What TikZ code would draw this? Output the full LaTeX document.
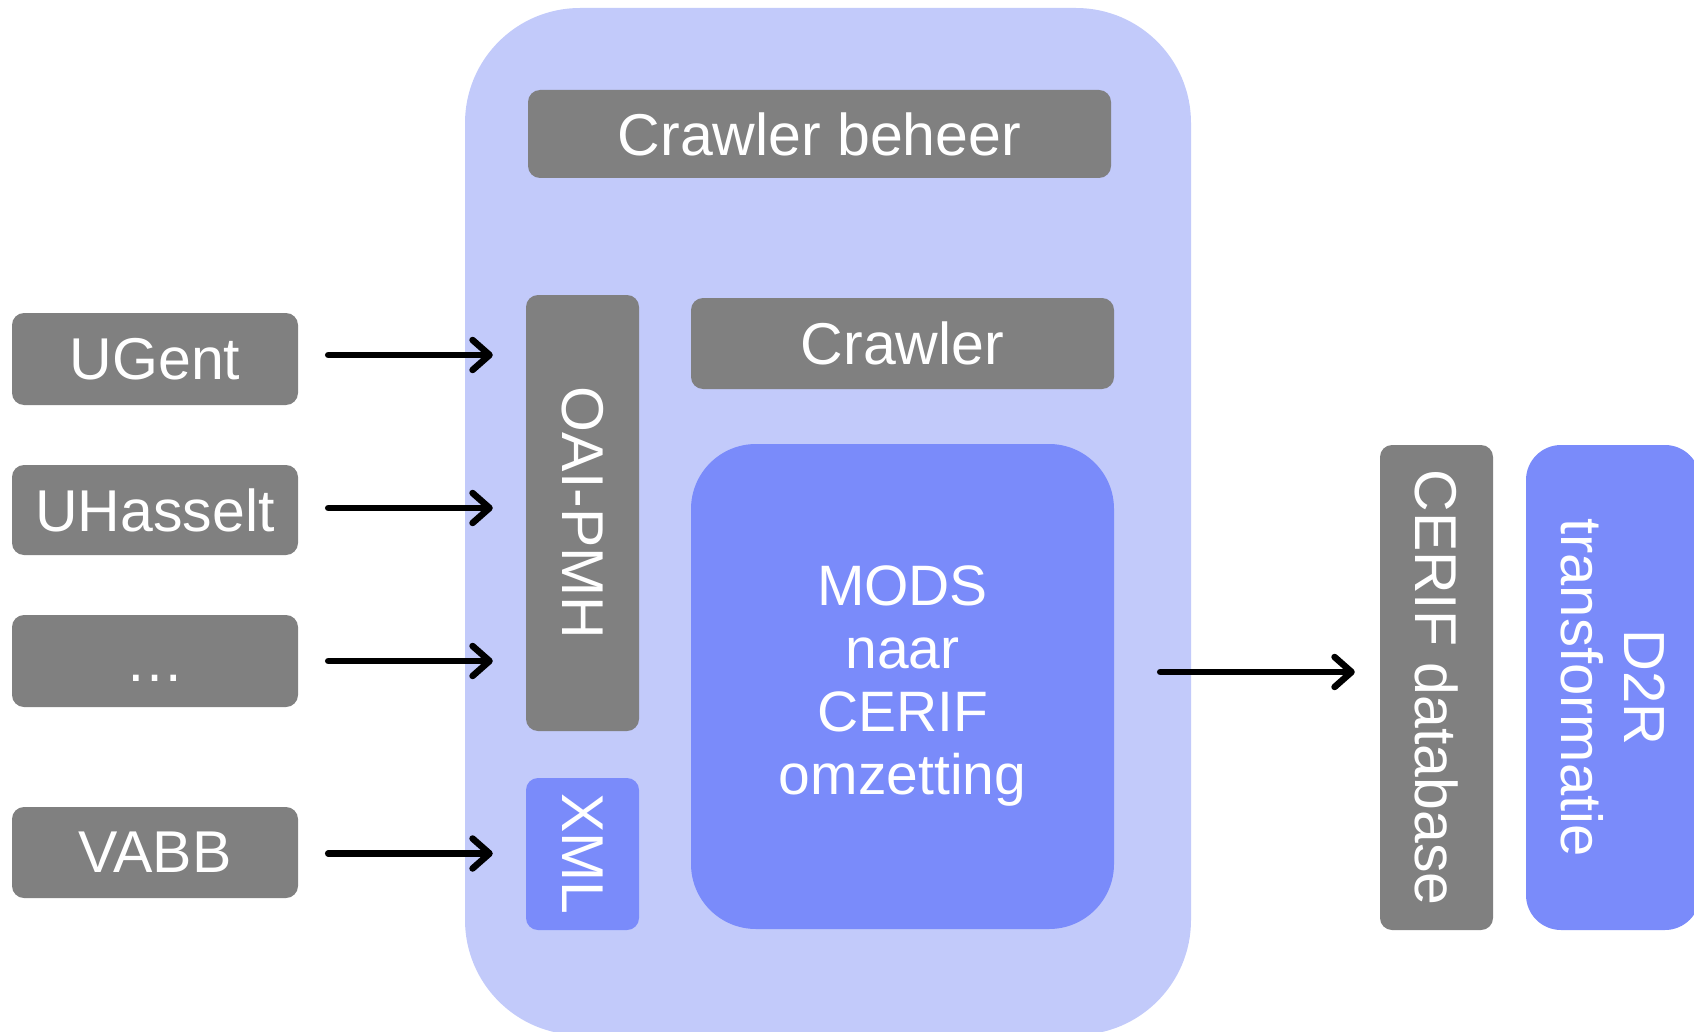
\documentclass[tikz,border=0pt]{standalone}
\usepackage{fontspec}
\setmainfont{Liberation Sans}
\usetikzlibrary{arrows.meta}
\definecolor{boxgray}{RGB}{128,128,128}
\definecolor{boxblue}{RGB}{122,139,250}
\definecolor{bglight}{RGB}{194,202,250}
\tikzset{
  graybox/.style={rounded corners=12pt, fill=boxgray, text=white, inner sep=0pt, align=center, font=\fontsize{59}{63}\selectfont},
  bluebox/.style={graybox, fill=boxblue},
  arr/.style={line width=6.5pt, line cap=round, -{Straight Barb[length=17pt,width=30pt,line cap=round,line join=round]}},
}
\begin{document}
\begin{tikzpicture}[x=1pt,y=-1pt]
\useasboundingbox (0,0) rectangle (1694,1032);
\clip (0,0) rectangle (1694,1032);
% background container
\fill[bglight, rounded corners=115pt] (465,8) rectangle (1191,1035);
% nodes
\node[graybox, minimum width=583pt, minimum height=88pt] (beheer) at (819.5,134) {Crawler beheer};
\node[graybox, minimum width=423pt, minimum height=91pt] (crawler) at (902.5,343.5) {Crawler};
\node[graybox, rotate=-90, minimum width=436pt, minimum height=113pt, font=\fontsize{59}{63}\selectfont] (oai) at (582.5,513) {OAI-PMH};
\node[bluebox, rotate=-90, minimum width=152pt, minimum height=113pt, font=\fontsize{59}{63}\selectfont] (xml) at (582.5,854) {XML};
\node[bluebox, rounded corners=65pt, minimum width=423pt, minimum height=485pt, font=\fontsize{57}{63}\selectfont] (mods) at (902.5,686.5) {MODS\\naar\\CERIF\\omzetting};
\node[graybox, rotate=-90, minimum width=485pt, minimum height=113pt] (cerif) at (1436.5,687.5) {CERIF database};
\node[bluebox, rounded corners=35pt, rotate=-90, minimum width=485pt, minimum height=174pt, font=\fontsize{58}{63}\selectfont] (d2r) at (1613,687.5) {D2R\\transformatie};
\node[graybox, minimum width=286pt, minimum height=92pt] (ugent) at (155,359) {UGent};
\node[graybox, minimum width=286pt, minimum height=90pt] (uhasselt) at (155,510) {UHasselt};
\node[graybox, minimum width=286pt, minimum height=92pt] (dots) at (155,661) {\vphantom{U}\ldots};
\node[graybox, minimum width=286pt, minimum height=91pt] (vabb) at (155,852.5) {VABB};
% connectors
\draw[arr] ([xshift=30pt,yshift=4pt]ugent.east) -- ([xshift=-33pt,yshift=4pt]ugent.east -| oai.south);
\draw[arr] ([xshift=30pt,yshift=2pt]uhasselt.east) -- ([xshift=-33pt,yshift=2pt]uhasselt.east -| oai.south);
\draw[arr] ([xshift=30pt]dots.east) -- ([xshift=-33pt]dots.east -| oai.south);
\draw[arr] ([xshift=30pt,yshift=-1pt]vabb.east) -- ([xshift=-33pt,yshift=-1pt]vabb.east -| xml.south);
\draw[arr] ([xshift=46pt,yshift=14.5pt]mods.east) -- ([xshift=-25pt,yshift=14.5pt]mods.east -| cerif.south);
\end{tikzpicture}
\end{document}
